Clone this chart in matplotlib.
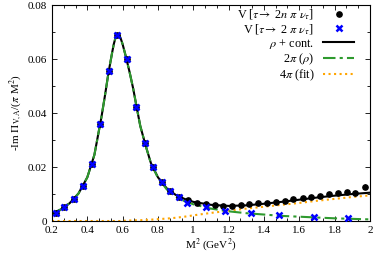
import matplotlib
matplotlib.use('Agg')
import matplotlib.pyplot as plt
from matplotlib.ticker import MultipleLocator, AutoMinorLocator

plt.rcParams['font.family'] = ['Liberation Serif', 'DejaVu Serif']
plt.rcParams['mathtext.fontset'] = 'stix'
plt.rcParams['font.size'] = 8

# data points, tau -> 2n pi nu
m2_all = [0.221, 0.270, 0.323, 0.374, 0.425, 0.472, 0.521, 0.570, 0.626, 0.675,
          0.725, 0.770, 0.823, 0.868, 0.920, 0.970, 1.022, 1.072, 1.121, 1.170,
          1.220, 1.268, 1.318, 1.368, 1.418, 1.468, 1.517, 1.566, 1.619, 1.667,
          1.719, 1.769, 1.819, 1.869, 1.918, 1.970]
v_all = [0.0031, 0.0053, 0.0081, 0.0130, 0.0212, 0.0359, 0.0555, 0.0689, 0.0599, 0.0423,
         0.0288, 0.0199, 0.0144, 0.0111, 0.0090, 0.0079, 0.0068, 0.0063, 0.0059, 0.0056,
         0.0056, 0.0060, 0.0063, 0.0065, 0.0068, 0.0072, 0.0075, 0.0080, 0.0084, 0.0088,
         0.0094, 0.0100, 0.0102, 0.0106, 0.0105, 0.0127]
err_all = [0.0002] * 35 + [0.0010]

# data points, tau -> 2 pi nu
m2_2pi = [0.221, 0.270, 0.323, 0.374, 0.425, 0.472, 0.521, 0.570, 0.626, 0.675,
          0.725, 0.770, 0.823, 0.868, 0.920, 0.962, 1.070, 1.179, 1.325, 1.486,
          1.683, 1.875]
v_2pi = [0.0031, 0.0053, 0.0081, 0.0130, 0.0212, 0.0359, 0.0555, 0.0689, 0.0599, 0.0423,
         0.0288, 0.0199, 0.0144, 0.0111, 0.0090, 0.0068, 0.0052, 0.0037, 0.0028, 0.0023,
         0.0015, 0.0010]

# model curves
m2_curve = [0.20, 0.25, 0.30, 0.35, 0.40, 0.44, 0.48, 0.50, 0.52, 0.54, 0.55, 0.56, 0.57,
            0.58, 0.59, 0.60, 0.62, 0.64, 0.66, 0.68, 0.70, 0.73, 0.76, 0.80, 0.85, 0.90,
            0.95, 1.00, 1.10, 1.20, 1.30, 1.40, 1.50, 1.60, 1.70, 1.80, 1.90, 2.00]
rho_cont = [0.0027, 0.0043, 0.0066, 0.0102, 0.0162, 0.0245, 0.0385, 0.0465, 0.0550, 0.0622,
            0.0656, 0.0680, 0.0693, 0.0690, 0.0675, 0.0655, 0.0605, 0.0550, 0.0490, 0.0420,
            0.0352, 0.0280, 0.0215, 0.0162, 0.0121, 0.0097, 0.0082, 0.0071, 0.0060, 0.0056,
            0.0058, 0.0064, 0.0071, 0.0079, 0.0087, 0.0094, 0.0100, 0.0105]
two_pi = [0.0027, 0.0043, 0.0066, 0.0102, 0.0162, 0.0245, 0.0385, 0.0465, 0.0550, 0.0622,
          0.0656, 0.0680, 0.0693, 0.0690, 0.0675, 0.0655, 0.0605, 0.0550, 0.0490, 0.0420,
          0.0352, 0.0280, 0.0214, 0.0160, 0.0117, 0.0090, 0.0074, 0.0062, 0.0046, 0.0036,
          0.0029, 0.0024, 0.0019, 0.0016, 0.0013, 0.0010, 0.0008, 0.0006]
four_pi = [0.0, 0.0, 0.0, 0.0, 0.0, 0.0, 0.0, 0.0, 0.0, 0.0,
           0.0, 0.0, 0.0, 0.0, 0.0, 0.0001, 0.0001, 0.0002, 0.0002, 0.0003,
           0.0003, 0.0004, 0.0005, 0.0007, 0.0009, 0.0012, 0.0016, 0.0021, 0.0030, 0.0038,
           0.0046, 0.0053, 0.0060, 0.0067, 0.0075, 0.0082, 0.0089, 0.0095]

x_ticks = [0.2, 0.4, 0.6, 0.8, 1.0, 1.2, 1.4, 1.6, 1.8, 2.0]
x_ticklabels = ['0.2', '0.4', '0.6', '0.8', '1', '1.2', '1.4', '1.6', '1.8', '2']
y_ticks = [0, 0.02, 0.04, 0.06, 0.08]
y_ticklabels = ['0', '0.02', '0.04', '0.06', '0.08']

fig = plt.figure(figsize=(3.74, 2.57), dpi=100)
ax = fig.add_axes([0.139, 0.140, 0.850, 0.840])

h_all = ax.errorbar(m2_all, v_all, yerr=err_all, fmt='o', color='black', ms=3.8,
                    elinewidth=1.0, capsize=0, zorder=3,
                    label=r'V [$\tau\!\rightarrow$ 2$n$ $\pi$ $\nu_\tau$]')
h_2pi, = ax.plot(m2_2pi, v_2pi, 'x', color='#0000ff', ms=4.0, mew=1.8, zorder=4,
                 label=r'V [$\tau\!\rightarrow$ 2 $\pi$ $\nu_\tau$]')
h_rho, = ax.plot(m2_curve, rho_cont, '-', color='black', lw=1.5, zorder=2,
                 label=r'$\rho$ + cont.')
h_two, = ax.plot(m2_curve, two_pi, '-.', color='#2e9a2e', lw=1.5, zorder=2.5,
                 dashes=(6, 2, 1.5, 2), label=r'2$\pi$ ($\rho$)')
h_four, = ax.plot(m2_curve, four_pi, ':', color='#ffa500', lw=1.5, zorder=2,
                  label=r'4$\pi$ (fit)')

ax.set_xlim(0.2, 2.0)
ax.set_ylim(0, 0.08)
ax.set_xticks(x_ticks)
ax.set_xticklabels(x_ticklabels)
ax.set_yticks(y_ticks)
ax.set_yticklabels(y_ticklabels)
ax.xaxis.set_minor_locator(AutoMinorLocator(3))
ax.yaxis.set_minor_locator(MultipleLocator(0.01))
ax.tick_params(which='both', direction='in', top=True, right=True, labelsize=8, width=0.6)
ax.tick_params(which='major', length=3.5)
ax.tick_params(which='minor', length=2)
for s in ax.spines.values():
    s.set_linewidth(0.8)

ax.set_xlabel(r'M$^2$ (GeV$^2$)', fontsize=8, labelpad=1)
ax.set_ylabel(r'-Im $\Pi_{\rm V,A}$/($\pi$ M$^2$)', fontsize=8, labelpad=2)

handles = [h_all[0], h_2pi, h_rho, h_two, h_four]
labels = [h_all.get_label(), h_2pi.get_label(), h_rho.get_label(),
          h_two.get_label(), h_four.get_label()]
ax.legend(handles=handles, labels=labels,
          loc='upper right', bbox_to_anchor=(0.95, 0.99), frameon=False,
          markerfirst=False, fontsize=8.8, handlelength=2.5, labelspacing=0.05,
          borderaxespad=0, borderpad=0, handletextpad=0.74, numpoints=1)

fig.savefig('out.png', dpi=100)
